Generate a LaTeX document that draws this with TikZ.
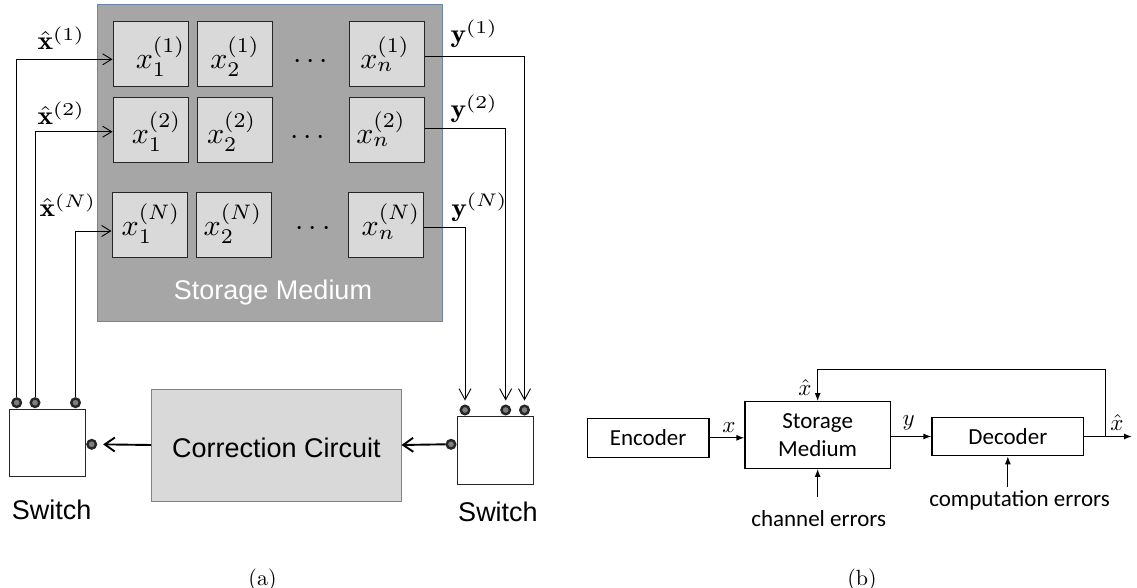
\documentclass[tikz,border=0pt]{standalone}
\usepackage{fontspec}
\newfontfamily\arialf{Liberation Sans}
\newfontfamily\calib{Carlito}
\usetikzlibrary{arrows.meta}
\definecolor{medgray}{HTML}{A6A6A6}
\definecolor{lightgrayb}{HTML}{D9D9D9}
\definecolor{bordblue}{HTML}{6A86B0}
\definecolor{pingray}{HTML}{7F7F7F}
\tikzset{
 cellbox/.style={draw=black!85, fill=lightgrayb, line width=1pt, minimum width=75pt, minimum height=65pt, inner sep=0pt},
 cellmath/.style={scale=3, anchor=base, inner sep=0pt},
 lblmath/.style={xscale=2.95, yscale=2.6, anchor=base west, inner sep=0pt},
 thinarr/.style={line width=0.9pt, -{Straight Barb[length=9pt,width=11pt]}},
 downarr/.style={line width=0.9pt, -{Straight Barb[length=11pt,width=12pt]}, shorten >=4pt},
 thickarr/.style={line width=1.9pt, -{Straight Barb[length=10pt,width=14pt]}},
 pin/.style={circle, draw=black!85, fill=pingray, line width=2.4pt, minimum size=8.5pt, inner sep=0pt},
 swbox/.style={draw=black!85, fill=white, line width=1pt, minimum width=76pt, minimum height=67.5pt, inner sep=0pt},
 arialtxt/.style={font=\arialf\fontsize{27}{32}\selectfont, inner sep=0pt, anchor=base},
 bbox/.style={draw=black, line width=1.2pt, inner sep=0pt, font=\calib\fontsize{23}{28}\selectfont, align=center},
 bmath/.style={scale=2.3, anchor=base, inner sep=0pt},
 barr/.style={line width=1.2pt, -{Latex[length=8pt,width=6pt]}},
 ctxt/.style={font=\calib\fontsize{23}{28}\selectfont, inner sep=0pt, anchor=base},
 captxt/.style={scale=2.2, anchor=base, inner sep=0pt},
}
\begin{document}
\begin{tikzpicture}[x=1pt,y=-1pt]
\useasboundingbox (0,0) rectangle (1137,588);
% ---------------- (a) ----------------
\node[draw=bordblue, fill=medgray, line width=1pt, minimum width=345.4pt, minimum height=316.7pt, inner sep=0pt] (sm) at (270,163.35) {};
\node[arialtxt, text=white] (smtxt) at (273,299) {Storage Medium};
% cells
\node[cellbox] (c11) at (150.5,54.2) {};
\node[cellbox] (c12) at (234.8,54.2) {};
\node[cellbox] (c1n) at (386.8,54.2) {};
\node[cellbox] (c21) at (150.5,129.8) {};
\node[cellbox] (c22) at (234.8,129.8) {};
\node[cellbox] (c2n) at (386.8,129.8) {};
\node[cellbox] (cN1) at (149.5,224.7) {};
\node[cellbox] (cN2) at (233.7,224.7) {};
\node[cellbox] (cNn) at (385.8,224.7) {};
\node[cellmath] (t11) at (160.5,68.3) {$x_1^{(1)}$};
\node[cellmath] (t12) at (235,68.3) {$x_2^{(1)}$};
\node[cellmath] (t1n) at (385,68.3) {$x_n^{(1)}$};
\node[cellmath] (t21) at (156.5,143.3) {$x_1^{(2)}$};
\node[cellmath] (t22) at (231.7,143.3) {$x_2^{(2)}$};
\node[cellmath] (t2n) at (381,143.3) {$x_n^{(2)}$};
\node[cellmath] (tN1) at (151,235.5) {$x_1^{(N)}$};
\node[cellmath] (tN2) at (233,235.5) {$x_2^{(N)}$};
\node[cellmath] (tNn) at (391,235.5) {$x_n^{(N)}$};
\node[cellmath] (d1) at (310.8,68.5) {$\cdots$};
\node[cellmath] (d2) at (307.5,144.2) {$\cdots$};
\node[cellmath] (dN) at (313,235.2) {$\cdots$};
% labels
\node[lblmath] (lx1) at (37,50) {$\hat{\mathbf{x}}^{(1)}$};
\node[lblmath] (lx2) at (37,125) {$\hat{\mathbf{x}}^{(2)}$};
\node[lblmath] (lxN) at (39,216.7) {$\hat{\mathbf{x}}^{(N)}$};
\node[lblmath] (ly1) at (450,43) {$\mathbf{y}^{(1)}$};
\node[lblmath] (ly2) at (450,118) {$\mathbf{y}^{(2)}$};
\node[lblmath] (lyN) at (450.7,216) {$\mathbf{y}^{(N)}$};
% switches
\node[swbox] (sw1) at (47.3,443) {};
\node[swbox] (sw2) at (495.85,450.5) {};
\node[pin] (p1) at (16.7,402.7) {};
\node[pin] (p2) at (35,402.7) {};
\node[pin] (p3) at (75.5,402.7) {};
\node[pin] (q1) at (465,410) {};
\node[pin] (q2) at (505.7,410) {};
\node[pin] (q3) at (524.5,410) {};
\node[pin] (pl) at (91.7,444.3) {};
\node[pin] (pr) at (451,444.3) {};
\node[arialtxt] (swl) at (51.7,519.5) {Switch};
\node[arialtxt] (swr) at (498,521.7) {Switch};
% correction circuit
\node[draw=bordblue, fill=lightgrayb, line width=1pt, minimum width=249.3pt, minimum height=112pt, inner sep=0pt] (cc) at (276.35,445) {};
\node[arialtxt] (cctxt) at (276.4,457.3) {Correction Circuit};
% connectors (a)
\draw[thinarr] (p1.north) |- (c11.west |- 0,59.3);
\draw[thinarr] (p2.north) |- (c21.west |- 0,131.7);
\draw[thinarr] (p3.north) |- (cN1.west |- 0,231);
\draw[downarr] (c1n.east |- 0,56.7) -| (q3.north);
\draw[downarr] (c2n.east |- 0,128.3) -| (q2.north);
\draw[downarr] (cNn.east |- 0,227.7) -| (q1.north);
\draw[thickarr, shorten >=6pt] (cc.west) -- (pl.east);
\draw[thickarr] (pr.west) -- (cc.east);
\node[captxt] (capa) at (262.5,585.5) {(a)};
% ---------------- (b) ----------------
\node[bbox, minimum width=121.7pt, minimum height=39pt] (enc) at (648.15,437.8) {Encoder};
\node[bbox, minimum width=145.3pt, minimum height=66.6pt] (sm2) at (817.65,435) {Storage\\Medium};
\node[bbox, minimum width=151.7pt, minimum height=38.4pt] (dec) at (1007.85,436.5) {Decoder};
\draw[barr] (enc.east) -- (enc.east -| sm2.west);
\draw[barr] (sm2.east |- dec.west) -- (dec.west);
\coordinate (outend) at (1132,436.5);
\coordinate (br) at (1105.3,436.5);
\draw[barr] (dec.east) -- (outend);
\draw[barr] (br) -- (br |- 0,369.3) -| (sm2.north);
\coordinate (cein) at (817.65,496.7);
\coordinate (coin) at (1007.85,486.7);
\draw[barr] (cein) -- (sm2.south);
\draw[barr] (coin) -- (dec.south);
\node[bmath] (lbx) at (729,432) {$x$};
\node[bmath] (lby) at (908.7,425) {$y$};
\node[bmath] (lbxh1) at (805,395) {$\hat{x}$};
\node[bmath] (lbxh2) at (1117,430) {$\hat{x}$};
\node[ctxt] (ce) at (818.7,526) {channel errors};
\node[ctxt] (co) at (1019.5,506) {computation errors};
\node[captxt] (capb) at (862,585.5) {(b)};
\end{tikzpicture}
\end{document}
